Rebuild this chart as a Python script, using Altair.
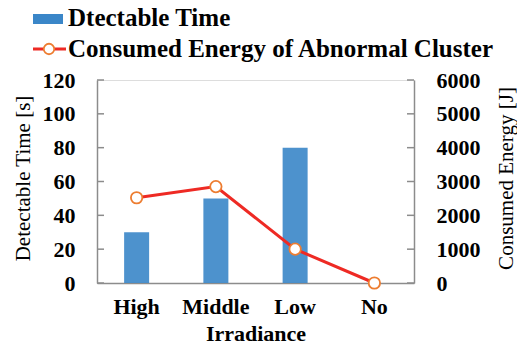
import altair as alt
import pandas as pd

# Irradiance conditions and measured values
categories = ["High", "Middle", "Low", "No"]
detectable_time = [30, 50, 80, None]          # seconds
consumed_energy = [2520, 2850, 1000, 0]       # joules
time_ticks = [0, 20, 40, 60, 80, 100, 120]
energy_ticks = [0, 1000, 2000, 3000, 4000, 5000, 6000]
legend_labels = ["Dtectable Time", "Consumed Energy of Abnormal Cluster"]

FONT = "'Liberation Serif', 'Times New Roman', Tinos, serif"
W, H = 317, 203
AXIS_GREY = "#8c8c8c"
BAR_BLUE = "#3a86c8"

df = pd.DataFrame({
    "Irradiance": categories,
    "Time": detectable_time,
    "Energy": consumed_energy,
})
df_bars = df.dropna(subset=["Time"])

x_enc = alt.X(
    "Irradiance:N",
    sort=categories,
    scale=alt.Scale(domain=categories, paddingInner=0, paddingOuter=0),
    axis=alt.Axis(
        title="Irradiance", titleFont=FONT, titleFontSize=22, titleFontWeight="bold",
        titleColor="black", titlePadding=6,
        labelFont=FONT, labelFontSize=22, labelFontWeight="bold", labelColor="black",
        labelAngle=0, labelPadding=13, ticks=False,
        domainColor=AXIS_GREY, domainWidth=1.5,
    ),
)

time_scale = alt.Scale(domain=[0, 120], nice=False)
energy_scale = alt.Scale(domain=[0, 6000], nice=False)

bars = alt.Chart(df_bars).mark_bar(size=25, color=BAR_BLUE, opacity=0.9).encode(
    x=x_enc,
    y=alt.Y(
        "Time:Q", scale=time_scale,
        axis=alt.Axis(
            orient="left", values=time_ticks, ticks=False, grid=False, format="d",
            title="Detectable Time [s]", titleFont=FONT, titleFontSize=21,
            titleFontWeight="normal", titleColor="black",
            titleAngle=270, titleX=-68, titleY=98,
            titleAlign="center", titleBaseline="alphabetic",
            labelFont=FONT, labelFontSize=22, labelFontWeight="bold",
            labelColor="black", labelPadding=22,
            domainColor=AXIS_GREY, domainWidth=1.5,
        ),
    ),
)

# inward tick marks on the left axis
left_ticks = alt.Chart(pd.DataFrame({"t": time_ticks})).mark_rule(
    color=AXIS_GREY, strokeWidth=1.5
).encode(
    y=alt.Y("t:Q", scale=time_scale, axis=None),
    x=alt.value(0), x2=alt.value(7),
)

line = alt.Chart(df).mark_line(color="#ee2a24", strokeWidth=3).encode(
    x=alt.X("Irradiance:N", sort=categories),
    y=alt.Y(
        "Energy:Q", scale=energy_scale,
        axis=alt.Axis(
            orient="right", values=energy_ticks, ticks=False, grid=False, format="d",
            title="Consumed Energy [J]", titleFont=FONT, titleFontSize=21,
            titleFontWeight="normal", titleColor="black",
            titleAngle=270, titleX=98, titleY=98,
            titleAlign="center", titleBaseline="alphabetic",
            labelFont=FONT, labelFontSize=22, labelFontWeight="bold",
            labelColor="black", labelPadding=22,
            domainColor=AXIS_GREY, domainWidth=1.5,
        ),
    ),
)
points = alt.Chart(df).mark_point(
    shape="circle", size=130, filled=True, fill="white",
    stroke="#ed7d31", strokeWidth=1.8, opacity=1,
).encode(
    x=alt.X("Irradiance:N", sort=categories),
    y=alt.Y("Energy:Q", scale=energy_scale, axis=None),
)

# inward tick marks on the right axis
right_ticks = alt.Chart(pd.DataFrame({"e": energy_ticks})).mark_rule(
    color=AXIS_GREY, strokeWidth=1.5
).encode(
    y=alt.Y("e:Q", scale=energy_scale, axis=None),
    x=alt.value(W - 7), x2=alt.value(W),
)

# legend drawn above the plot area
one = pd.DataFrame({"k": [0]})
leg_rect = alt.Chart(one).mark_rect(color=BAR_BLUE).encode(
    x=alt.value(-64), x2=alt.value(-34), y=alt.value(-66), y2=alt.value(-56),
)
leg_line = alt.Chart(one).mark_rule(color="#ee2a24", strokeWidth=3).encode(
    x=alt.value(-64), x2=alt.value(-31), y=alt.value(-31),
)
leg_pt = alt.Chart(one).mark_point(
    shape="circle", size=110, filled=True, fill="white",
    stroke="#ed7d31", strokeWidth=1.8, opacity=1,
).encode(x=alt.value(-48), y=alt.value(-31))
leg_t1 = alt.Chart(one).mark_text(
    text=legend_labels[0], font=FONT, fontSize=25, fontWeight="bold",
    align="left", baseline="alphabetic", color="black",
).encode(x=alt.value(-29), y=alt.value(-54))
leg_t2 = alt.Chart(one).mark_text(
    text=legend_labels[1], font=FONT, fontSize=25, fontWeight="bold",
    align="left", baseline="alphabetic", color="black",
).encode(x=alt.value(-29), y=alt.value(-23))

chart = alt.layer(
    bars, left_ticks, line, points, right_ticks,
    leg_rect, leg_line, leg_pt, leg_t1, leg_t2,
).resolve_scale(y="independent").properties(
    width=W, height=H,
    autosize=alt.AutoSizeParams(type="none"),
    padding={"left": 97, "top": 80, "right": 103, "bottom": 61},
).configure_view(stroke=None).configure(background="white")

chart.save("out.html", embed_options={"renderer": "svg", "actions": False})
